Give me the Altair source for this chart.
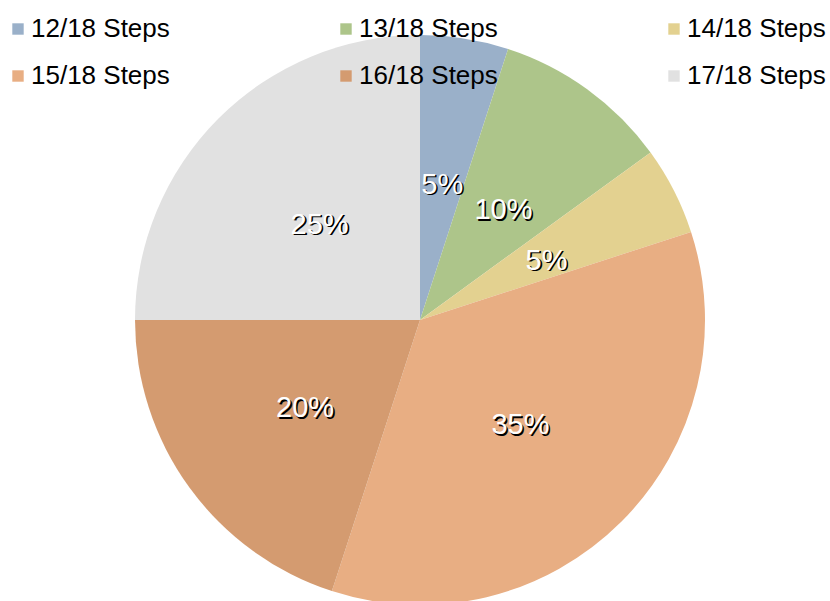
import altair as alt
import pandas as pd

categories = ["12/18 Steps", "13/18 Steps", "14/18 Steps", "15/18 Steps", "16/18 Steps", "17/18 Steps"]
values = [5, 10, 5, 35, 20, 25]
labels = ["5%", "10%", "5%", "35%", "20%", "25%"]
colors = ["#9AB0C9", "#ADC58A", "#E3D190", "#E8AE83", "#D49B70", "#E1E1E1"]

df = pd.DataFrame({"cat": categories, "value": values, "label": labels, "idx": list(range(len(categories)))})

CX, CY, R = 420, 320, 285
FONT = "Liberation Sans"

base = alt.Chart(df).encode(
    theta=alt.Theta("value:Q", stack=True),
    order=alt.Order("idx:Q"),
    x=alt.value(CX),
    y=alt.value(CY),
)

arcs = base.mark_arc(outerRadius=R, stroke=None).encode(
    color=alt.Color(
        "cat:N",
        scale=alt.Scale(domain=categories, range=colors),
        legend=alt.Legend(
            orient="none", legendX=5, legendY=16, columns=3, direction="horizontal",
            title=None, symbolType="square", symbolSize=130, symbolStrokeWidth=0,
            labelFontSize=26, labelFont=FONT, labelColor="black", labelOffset=0,
            labelLimit=0, columnPadding=163, rowPadding=21, padding=0,
        ),
    )
)

shadow = base.mark_text(radius=142, font=FONT, fontSize=29, color="black", dx=1.6, dy=6.6).encode(
    text="label:N"
)
front = base.mark_text(radius=142, font=FONT, fontSize=29, color="white", dy=5).encode(
    text="label:N"
)

chart = alt.layer(arcs, shadow, front).properties(
    width=830, height=601, autosize="none", padding=0
).configure_view(stroke=None)

chart.save("out.html", embed_options={"renderer": "svg", "actions": False})
